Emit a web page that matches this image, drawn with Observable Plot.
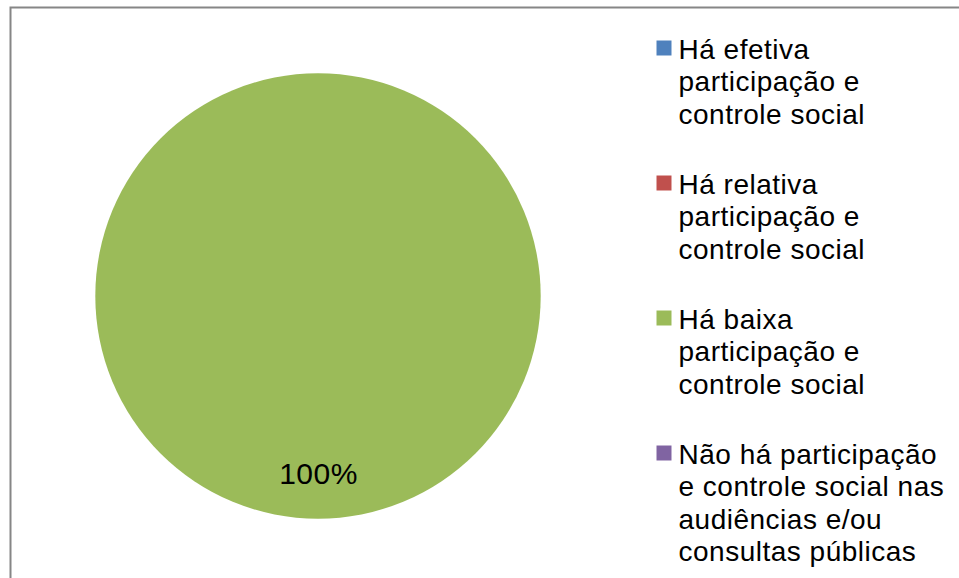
<!DOCTYPE html>
<html><head><meta charset="utf-8">
<script src="https://cdn.jsdelivr.net/npm/d3@7"></script>
<script src="https://cdn.jsdelivr.net/npm/@observablehq/plot@0.6"></script>
<style>body{margin:0;background:#fff;}#chart svg{display:block;}</style>
</head><body><div id="chart"></div>
<script>
const categories = [
  "Há efetiva participação e controle social",
  "Há relativa participação e controle social",
  "Há baixa participação e controle social",
  "Não há participação e controle social nas audiências e/ou consultas públicas"
];
const legendLines = [
  ["Há efetiva", "participação e", "controle social"],
  ["Há relativa", "participação e", "controle social"],
  ["Há baixa", "participação e", "controle social"],
  ["Não há participação", "e controle social nas", "audiências e/ou", "consultas públicas"]
];
const values = [0, 0, 100, 0];
const colors = ["#4F81BD", "#C0504D", "#9BBB59", "#8064A2"];

const data = categories.map((c, i) => ({category: c, value: values[i]}));
const total = d3.sum(values);
const arcs = d3.pie().sort(null).value(d => d.value)(data);
const slices = arcs.filter(a => a.data.value > 0).map(a => ({
  category: a.data.category,
  value: a.data.value,
  start: a.startAngle,
  end: a.endAngle,
  mid: (a.startAngle + a.endAngle) / 2,
  pct: a.data.value / total
}));

const pieMark = Plot.dot(slices, {
  x: () => 0, y: () => 0, fill: "category", r: 1,
  render(index, scales, values, dims, ctx) {
    const g = d3.create("svg:g");
    const cx = scales.x(0), cy = scales.y(0);
    const r = scales.x(1) - scales.x(0);
    const arc = d3.arc().innerRadius(0).outerRadius(r);
    for (const i of index) {
      g.append("path")
        .attr("transform", `translate(${cx},${cy})`)
        .attr("d", arc({startAngle: slices[i].start, endAngle: slices[i].end}))
        .attr("fill", values.fill[i]);
    }
    return g.node();
  }
});

const labelMark = Plot.text(slices, {
  x: d => 0.8 * Math.sin(d.mid),
  y: d => 0.8 * Math.cos(d.mid),
  text: d => d3.format(".0%")(d.pct),
  fontSize: 30,
  fill: "#000",
  style: {letterSpacing: "1.5px"}
});

const legendMarks = categories.flatMap((c, i) => {
  const top = 35 + 135 * i;
  return [
    Plot.dot([c], {frameAnchor: "top-left", dx: 663.5, dy: 47.5 + 135 * i, symbol: "square", fill: d => d, r: 15 / Math.sqrt(Math.PI)}),
    Plot.text([legendLines[i].join("\n")], {frameAnchor: "top-left", dx: 678, dy: top, text: d => d, textAnchor: "start", lineAnchor: "top", fontSize: 28, lineHeight: 32.5 / 28, fill: "#000"})
  ];
});

const chart = Plot.plot({
  width: 959,
  height: 578,
  margin: 0,
  style: {fontFamily: "'Liberation Sans', Arial, sans-serif", background: "#fff", letterSpacing: "0.5px"},
  x: {domain: [-1, 1], range: [95.3, 540.7], axis: null},
  y: {domain: [-1, 1], range: [518.7, 73.3], axis: null},
  color: {domain: categories, range: colors},
  marks: [
    Plot.frame({stroke: "#868686", strokeWidth: 2, insetLeft: 10, insetTop: 7, insetRight: -10, insetBottom: -10}),
    pieMark,
    labelMark,
    ...legendMarks
  ]
});
document.getElementById("chart").appendChild(chart);
</script>
</body></html>
